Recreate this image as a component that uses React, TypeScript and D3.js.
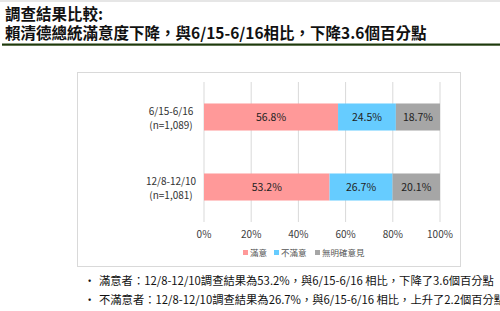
import React from "react";
import * as d3 from "d3";

const W = 500;
const H = 311;
const FONT = "'Noto Sans CJK TC', 'Noto Sans', sans-serif";

const periods = ["6/15-6/16", "12/8-12/10"];
const sampleSizes = ["(n=1,089)", "(n=1,081)"];
const seriesNames = ["滿意", "不滿意", "無明確意見"];
const satisfied = [56.8, 53.2];
const unsatisfied = [24.5, 26.7];
const noOpinion = [18.7, 20.1];
const colors = ["#FF9999", "#66CCFF", "#A6A6A6"];
const ticks = [0, 20, 40, 60, 80, 100];

const titleLines = ["調查結果比較:", "賴清德總統滿意度下降，與6/15-6/16相比，下降3.6個百分點"];
const bullets = [
  "滿意者：12/8-12/10調查結果為53.2%，與6/15-6/16 相比，下降了3.6個百分點",
  "不滿意者：12/8-12/10調查結果為26.7%，與6/15-6/16 相比，上升了2.2個百分點",
];

export default function App() {
  const rows = periods.map((p, i) => ({
    period: p,
    [seriesNames[0]]: satisfied[i],
    [seriesNames[1]]: unsatisfied[i],
    [seriesNames[2]]: noOpinion[i],
  }));
  const stacked = d3.stack<any>().keys(seriesNames)(rows);

  const x = d3.scaleLinear().domain([0, 100]).range([204, 440]);
  const y = d3.scaleBand().domain(periods).range([82, 222]).paddingInner(0.614).paddingOuter(0.307);

  const legendX = [243, 274, 315];

  return (
    <div style={{ position: "fixed", left: 0, top: 0 }}>
      <svg width={W} height={H} style={{ display: "block", fontFamily: FONT }}>
        <rect x={0} y={0} width={W} height={H} fill="#fff" />
        <rect x={0} y={0} width={W} height={2} fill="#e6e6e6" />
        {/* title */}
        <text x={5} y={19.5} fontSize={15.5} fontWeight="bold" fill="#111">{titleLines[0]}</text>
        <text x={5} y={39} fontSize={15.5} fontWeight="bold" fill="#111">{titleLines[1]}</text>
        <rect x={2} y={43.5} width={498} height={2.2} fill="#1e3a0c" />

        {/* chart frame */}
        <rect x={77.5} y={72.5} width={383} height={194} fill="none" stroke="#d9d9d9" />

        {/* grid */}
        {ticks.map((t) => (
          <g key={t}>
            <line x1={x(t)} x2={x(t)} y1={82} y2={222} stroke="#d9d9d9" />
            <text x={x(t)} y={238} fontSize={10} textAnchor="middle" fill="#404040">{t}%</text>
          </g>
        ))}

        {/* bars */}
        {stacked.map((s, si) => (
          <g key={s.key}>
            {s.map((d, i) => {
              const x0 = x(d[0]);
              const x1 = x(d[1]);
              return (
                <g key={i}>
                  <rect x={x0} y={y(periods[i])} width={x1 - x0} height={y.bandwidth()} fill={colors[si]} />
                  <text x={(x0 + x1) / 2} y={(y(periods[i]) as number) + y.bandwidth() / 2 + 3.5}
                    fontSize={10.5} textAnchor="middle" fill="#222">
                    {(d[1] - d[0]).toFixed(1)}%
                  </text>
                </g>
              );
            })}
          </g>
        ))}

        {/* category labels */}
        {periods.map((p, i) => {
          const cy = (y(p) as number) + y.bandwidth() / 2;
          return (
            <g key={p}>
              <text x={171} y={cy - 2} fontSize={10} textAnchor="middle" fill="#333">{p}</text>
              <text x={171} y={cy + 12} fontSize={10} textAnchor="middle" fill="#333">{sampleSizes[i]}</text>
            </g>
          );
        })}

        {/* legend */}
        {seriesNames.map((n, i) => (
          <g key={n}>
            <rect x={legendX[i]} y={250} width={5} height={5} fill={colors[i]} />
            <text x={legendX[i] + 7} y={256} fontSize={8.5} fill="#555">{n}</text>
          </g>
        ))}

        {/* notes */}
        {bullets.map((b, i) => (
          <g key={i}>
            <text x={84} y={285 + i * 19} fontSize={11.3} fill="#111">•</text>
            <text x={99} y={285 + i * 19} fontSize={11.3} fill="#111">{b}</text>
          </g>
        ))}
      </svg>
    </div>
  );
}
